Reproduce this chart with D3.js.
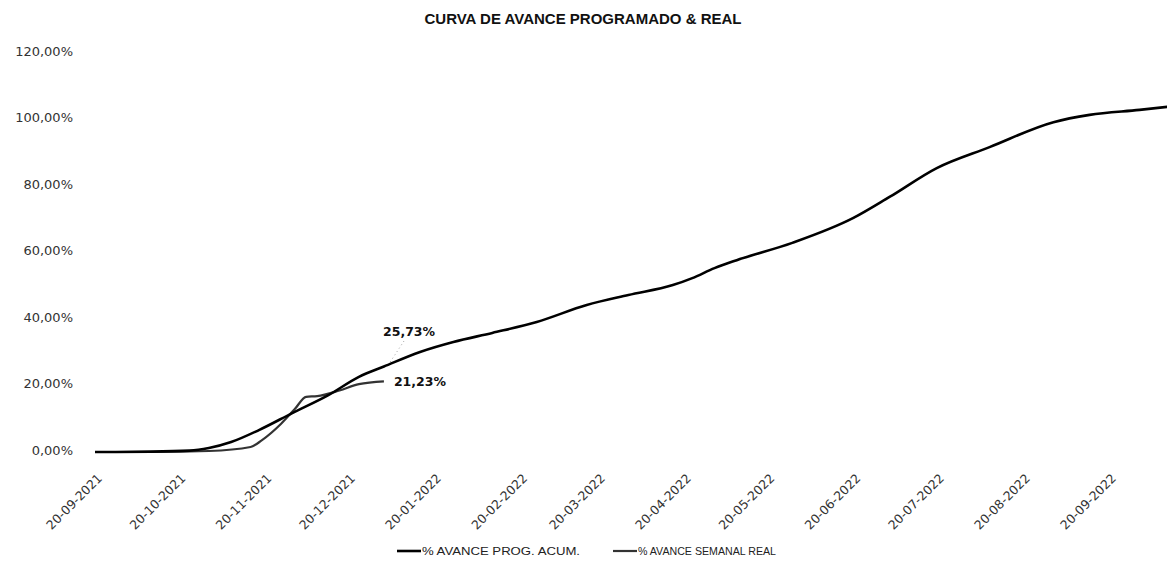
<!DOCTYPE html>
<html>
<head>
<meta charset="utf-8">
<script src="https://cdn.jsdelivr.net/npm/d3@7"></script>
<style>
  body { margin: 0; background: #fff; }
  svg { display: block; }
</style>
</head>
<body>
<script>
// programmed cumulative progress (% AVANCE PROG. ACUM.)
var progDates = ['2021-09-20', '2021-10-10', '2021-10-24', '2021-10-31', '2021-11-08',
  '2021-11-18', '2021-11-30', '2021-12-13', '2021-12-24', '2022-01-02', '2022-01-15',
  '2022-01-27', '2022-02-10', '2022-02-26', '2022-03-16', '2022-03-31', '2022-04-16',
  '2022-04-23', '2022-05-01', '2022-05-09', '2022-05-29', '2022-06-20', '2022-07-03',
  '2022-07-20', '2022-08-08', '2022-08-31', '2022-09-13', '2022-10-01', '2022-10-11'];
var progValues = [0, 0.1, 0.4, 1.2, 3.0, 6.6, 11.7, 17.1, 22.6, 25.73, 30.1,
  33.1, 35.8, 39.1, 44.2, 47.2, 50.2, 52.3, 55.3, 57.7, 62.9, 70.4, 76.7,
  85.4, 91.7, 99.2, 101.4, 102.9, 103.8];

// real weekly progress (% AVANCE SEMANAL REAL)
var realDates = ['2021-09-20', '2021-10-10', '2021-10-31', '2021-11-15', '2021-11-19',
  '2021-11-26', '2021-12-01', '2021-12-05', '2021-12-09', '2021-12-17', '2021-12-24',
  '2022-01-02'];
var realValues = [0, 0, 0.3, 1.5, 3.5, 8.5, 13.0, 16.6, 16.8, 18.5, 20.4, 21.23];

var tickDates = ['2021-09-20', '2021-10-20', '2021-11-20', '2021-12-20', '2022-01-20',
  '2022-02-20', '2022-03-20', '2022-04-20', '2022-05-20', '2022-06-20', '2022-07-20',
  '2022-08-20', '2022-09-20'];
var yTicks = [0, 20, 40, 60, 80, 100, 120];

var parse = d3.timeParse('%Y-%m-%d');
var fmtDate = d3.timeFormat('%d-%m-%Y');
var fmtPct = function(v) {
  return d3.format('.2f')(v).replace('.', ',') + '%';
};

var width = 1167, height = 569;

var svg = d3.select('body')
  .append('svg')
  .attr('width', width)
  .attr('height', height);

var x = d3.scaleTime()
  .domain([parse('2021-09-20'), parse('2022-09-20')])
  .range([95, 1109]);

var y = d3.scaleLinear()
  .domain([0, 120])
  .range([452, 53]);

// title
svg.append('text')
  .attr('x', 583)
  .attr('y', 24)
  .attr('text-anchor', 'middle')
  .attr('textLength', 317)
  .attr('lengthAdjust', 'spacingAndGlyphs')
  .style('font-family', 'Liberation Sans, Arial, sans-serif')
  .style('font-size', '15px')
  .style('font-weight', 'bold')
  .style('fill', '#111')
  .text('CURVA DE AVANCE PROGRAMADO & REAL');

// y axis labels
svg.append('g')
  .selectAll('text')
  .data(yTicks)
  .enter()
  .append('text')
  .attr('x', 73)
  .attr('y', function(d) { return y(d) - 2; })
  .attr('dy', '0.35em')
  .attr('text-anchor', 'end')
  .style('font-family', 'DejaVu Sans, sans-serif')
  .style('font-size', '13px')
  .style('fill', '#333')
  .text(fmtPct);

// x axis labels (rotated)
svg.append('g')
  .selectAll('text')
  .data(tickDates.map(parse))
  .enter()
  .append('text')
  .attr('transform', function(d) {
    return 'translate(' + (x(d) + 8) + ',479) rotate(-45)';
  })
  .attr('text-anchor', 'end')
  .style('font-family', 'DejaVu Sans, sans-serif')
  .style('font-size', '12.5px')
  .style('fill', '#333')
  .text(fmtDate);

var line = d3.line()
  .x(function(d) { return x(d.date); })
  .y(function(d) { return y(d.value); })
  .curve(d3.curveMonotoneX);

var prog = progDates.map(function(d, i) {
  return {date: parse(d), value: progValues[i]};
});
var real = realDates.map(function(d, i) {
  return {date: parse(d), value: realValues[i]};
});

svg.append('path')
  .datum(real)
  .attr('fill', 'none')
  .attr('stroke', '#333')
  .attr('stroke-width', 2.2)
  .attr('d', line);

svg.append('path')
  .datum(prog)
  .attr('fill', 'none')
  .attr('stroke', '#000')
  .attr('stroke-width', 2.6)
  .attr('d', line);

// data labels
var lastReal = real[real.length - 1];
var progAtReal = prog[progDates.indexOf('2022-01-02')];

// leader line for the programmed label
svg.append('line')
  .attr('x1', 404)
  .attr('y1', 341)
  .attr('x2', x(progAtReal.date) + 6)
  .attr('y2', y(progAtReal.value) - 4)
  .attr('stroke', '#888')
  .attr('stroke-width', 0.8)
  .attr('stroke-dasharray', '1,3');

svg.append('text')
  .attr('x', 383)
  .attr('y', 332)
  .attr('dy', '0.35em')
  .style('font-family', 'DejaVu Sans, sans-serif')
  .style('font-size', '12.5px')
  .style('font-weight', 'bold')
  .style('fill', '#111')
  .text(fmtPct(progAtReal.value));

svg.append('text')
  .attr('x', x(lastReal.date) + 10)
  .attr('y', y(lastReal.value))
  .attr('dy', '0.35em')
  .style('font-family', 'DejaVu Sans, sans-serif')
  .style('font-size', '12.5px')
  .style('font-weight', 'bold')
  .style('fill', '#111')
  .text(fmtPct(lastReal.value));

// legend
var legend = [
  {label: '% AVANCE PROG. ACUM.', x: 397, len: 158, w: 2.6, c: '#000'},
  {label: '% AVANCE SEMANAL REAL', x: 613, len: 138, w: 2.2, c: '#333'}
];
var lg = svg.append('g')
  .selectAll('g')
  .data(legend)
  .enter()
  .append('g');
lg.append('line')
  .attr('x1', function(d) { return d.x; })
  .attr('x2', function(d) { return d.x + 24; })
  .attr('y1', 551)
  .attr('y2', 551)
  .attr('stroke', function(d) { return d.c; })
  .attr('stroke-width', function(d) { return d.w; });
lg.append('text')
  .attr('x', function(d) { return d.x + 25; })
  .attr('y', 555)
  .attr('textLength', function(d) { return d.len; })
  .attr('lengthAdjust', 'spacingAndGlyphs')
  .style('font-family', 'Liberation Sans, Arial, sans-serif')
  .style('font-size', '11px')
  .style('fill', '#222')
  .text(function(d) { return d.label; });
</script>
</body>
</html>
